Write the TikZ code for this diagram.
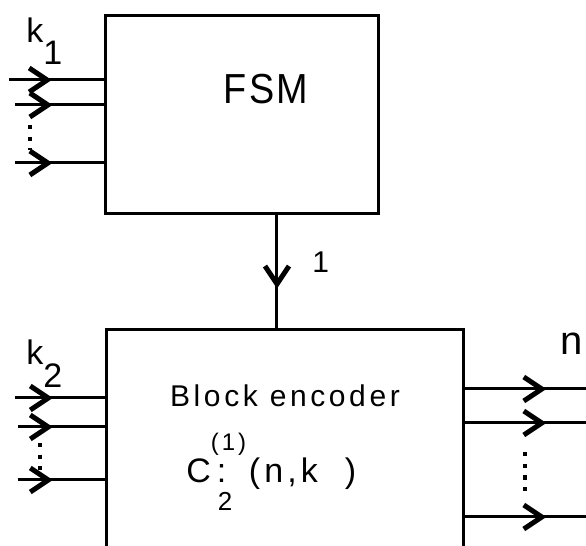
\documentclass[tikz,border=0pt]{standalone}
\usepackage{fontspec}
\setmainfont{Liberation Sans}
\newfontfamily\plotfont[LetterSpace=12]{Liberation Sans}
\newfontfamily\titlefont[LetterSpace=6, FakeStretch=0.9]{Liberation Sans}
\usetikzlibrary{arrows.meta,decorations.markings}

\tikzset{
	wire/.style={line width=1.5pt},
	midarrow/.style={wire, postaction={decorate},
		decoration={markings, mark=at position #1 with {\arrow{Straight Barb[length=9pt,width=12pt,line width=2.5pt]}}}},
	blockbox/.style={draw, line width=1.6pt, anchor=north west, inner sep=0pt},
	dotrow/.style={line width=1.6pt, dash pattern=on 2.2pt off 3.6pt},
	lbl/.style={inner sep=0pt, font=\plotfont\fontsize{15}{18}\selectfont},
}

\begin{document}
\begin{tikzpicture}[x=0.5pt, y=-0.5pt]
	% Frame
	\path[use as bounding box, clip] (0,0) rectangle (586,546);

	% Blocks
	\node[blockbox, minimum width=136.5pt, minimum height=99pt] (fsm) at (104,14) {};
	\node[blockbox, minimum width=178.5pt, minimum height=140pt] (enc) at (105,328) {};

	% Texts
	\node[lbl, anchor=base, font=\titlefont\fontsize{21}{24}\selectfont] (fsmtxt) at (266,104) {FSM};
	\node[lbl, anchor=base] (enctxt) at (285,407) {Block encoder};
	\node[lbl, anchor=base west, font=\plotfont\fontsize{17}{18}\selectfont] (code) at (186,483)
		{C\makebox[19pt][l]{\rlap{\raisebox{16.5pt}{\fontsize{12}{13}\selectfont(1)}}\rlap{\hspace{3.5pt}\raisebox{-14pt}{\fontsize{13}{14}\selectfont 2}}\hspace{3pt}:}(n,k\ \ )};

	% Labels
	\node[lbl, anchor=base west, font=\plotfont\fontsize{17}{18}\selectfont] (k1) at (26,42) {k\raisebox{-11.5pt}{1}};
	\node[lbl, anchor=base west, font=\plotfont\fontsize{17}{18}\selectfont] (k2) at (26,365) {k\raisebox{-11.5pt}{2}};
	\node[lbl, anchor=base west, font=\plotfont\fontsize{20}{22}\selectfont] (nlbl) at (560,355) {n};
	\node[lbl, anchor=base west] (ilbl) at (312,273) {1};

	% Inputs of FSM
	\foreach \y/\x/\p [count=\i] in {80/9/0.45, 105/15/0.42, 163/15/0.42} {
		\coordinate (kin\i) at (\x,\y);
		\draw[midarrow=\p] (kin\i) -- (kin\i -| fsm.west);
	}
	\draw[dotrow] (30,125) -- (30,150);

	% FSM to encoder
	\coordinate (tap) at (277,0);
	\draw[midarrow=0.65] (fsm.south -| tap) -- (enc.north -| tap);

	% Inputs of encoder
	\foreach \y/\x/\p [count=\i] in {398/15/0.42, 427/18/0.40, 480/18/0.40} {
		\coordinate (kout\i) at (\x,\y);
		\draw[midarrow=\p] (kout\i) -- (kout\i -| enc.west);
	}
	\draw[dotrow] (40,443) -- (40,470);

	% Outputs of encoder
	\foreach \y [count=\i] in {389, 423, 517} {
		\coordinate (nout\i) at (590,\y);
		\draw[midarrow=0.65] (enc.east |- nout\i) -- (nout\i);
	}
	\draw[dotrow] (525,452) -- (525,493);
\end{tikzpicture}
\end{document}
